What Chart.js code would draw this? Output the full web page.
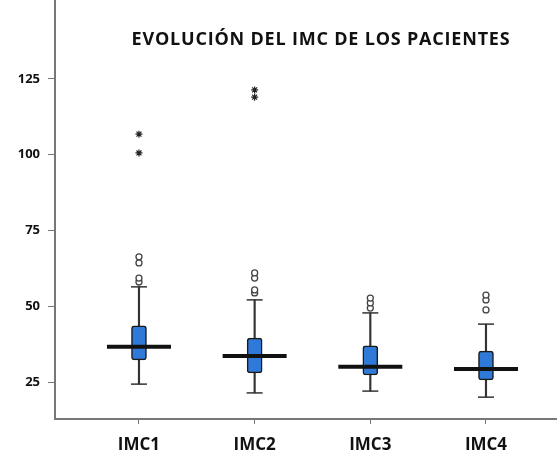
<!DOCTYPE html>
<html lang="es">
<head>
    <meta charset="UTF-8">
    <title>Evolución del IMC</title>
    <script src="https://cdn.jsdelivr.net/npm/chart.js"></script>
    <style>
        body { margin: 0; background: #fff; }
        #wrap { width: 557px; height: 453px; }
    </style>
</head>
<body>
    <div id="wrap"><canvas id="imcChart"></canvas></div>

    <script>
        const categories = ['IMC1', 'IMC2', 'IMC3', 'IMC4'];
        const whiskerLow = [24.3, 21.4, 22, 20];
        const q1 = [32.3, 28, 27.3, 25.7];
        const median = [36.6, 33.6, 30, 29.3];
        const q3 = [43.5, 39.5, 36.9, 35.2];
        const whiskerHigh = [56.4, 52.1, 47.8, 44.1];
        const outliers = [[58, 59.3, 64.3, 66.3], [54.4, 55.4, 59.3, 61], [49.4, 51.1, 52.7], [48.8, 52.1, 53.7]];
        const extremes = [[100.6, 106.8], [119, 121.4], [], []];
        const yTicks = [25, 50, 75, 100, 125];
        const title = 'EVOLUCIÓN DEL IMC DE LOS PACIENTES';

        const pos = categories.map((c, i) => i + 1);
        const flat = arr => arr.flatMap((vals, i) => vals.map(v => ({ x: pos[i], y: v })));

        // title sits inside the plot area
        const titlePlugin = {
            id: 'insideTitle',
            afterDraw(chart) {
                const ctx = chart.ctx;
                ctx.save();
                ctx.font = 'bold 18px "Open Sans"';
                ctx.letterSpacing = '0.8px';
                ctx.fillStyle = '#111';
                ctx.textAlign = 'center';
                ctx.textBaseline = 'middle';
                ctx.fillText(title, 321, 40);
                ctx.restore();
            }
        };

        new Chart(document.getElementById('imcChart'), {
            type: 'scatter',
            data: {
                datasets: [
                    {
                        type: 'scatter',
                        data: pos.map((x, i) => ({ x: x, y: median[i] })),
                        pointStyle: 'line',
                        radius: 32,
                        borderWidth: 4,
                        borderColor: '#111',
                        order: 0
                    },
                    {
                        type: 'scatter',
                        data: flat(outliers),
                        pointStyle: 'circle',
                        radius: 3,
                        borderWidth: 1.3,
                        borderColor: '#444',
                        backgroundColor: '#fff',
                        order: 0
                    },
                    {
                        type: 'scatter',
                        data: flat(extremes),
                        pointStyle: 'star',
                        radius: 3.5,
                        borderWidth: 1.2,
                        borderColor: '#222',
                        backgroundColor: '#222',
                        order: 0
                    },
                    {
                        type: 'bar',
                        data: pos.map((x, i) => ({ x: x, y: [q1[i], q3[i]] })),
                        barThickness: 15,
                        grouped: false,
                        backgroundColor: '#2f7ad8',
                        borderColor: '#1a1a1a',
                        borderWidth: 1.5,
                        borderRadius: 3,
                        borderSkipped: false,
                        order: 1
                    },
                    {
                        type: 'scatter',
                        data: pos.flatMap((x, i) => [{ x: x, y: whiskerLow[i] }, { x: x, y: whiskerHigh[i] }]),
                        pointStyle: 'line',
                        radius: 8,
                        borderWidth: 1.5,
                        borderColor: '#333',
                        order: 2
                    },
                    {
                        type: 'bar',
                        data: pos.map((x, i) => ({ x: x, y: [whiskerLow[i], whiskerHigh[i]] })),
                        barThickness: 1.5,
                        grouped: false,
                        backgroundColor: '#333',
                        order: 3
                    }
                ]
            },
            options: {
                responsive: true,
                maintainAspectRatio: false,
                animation: false,
                layout: { padding: 0, autoPadding: false },
                plugins: {
                    legend: { display: false },
                    tooltip: { enabled: false }
                },
                scales: {
                    x: {
                        type: 'linear',
                        min: 0.274,
                        max: 4.614,
                        offset: false,
                        afterBuildTicks: s => { s.ticks = pos.map(v => ({ value: v })); },
                        afterFit: s => { s.height = 34; s.paddingLeft = 0; s.paddingRight = 0; },
                        grid: { offset: false, drawOnChartArea: false, drawTicks: true, tickLength: 5, color: '#777' },
                        border: { color: '#777', width: 2 },
                        ticks: {
                            autoSkip: false,
                            maxRotation: 0,
                            padding: 11,
                            color: '#111',
                            font: { family: 'Open Sans', size: 17, weight: 'bold' },
                            callback: v => categories[v - 1]
                        }
                    },
                    y: {
                        min: 12.79,
                        max: 151.07,
                        afterBuildTicks: s => { s.ticks = yTicks.map(v => ({ value: v })); },
                        afterFit: s => { s.width = 55; s.paddingTop = 0; s.paddingBottom = 0; },
                        grid: { drawOnChartArea: false, drawTicks: true, tickLength: 7, color: '#777' },
                        border: { color: '#777', width: 2 },
                        ticks: {
                            padding: 8,
                            color: '#111',
                            font: { family: 'Open Sans', size: 13, weight: 'bold' }
                        }
                    }
                }
            },
            plugins: [titlePlugin]
        });
    </script>
</body>
</html>
